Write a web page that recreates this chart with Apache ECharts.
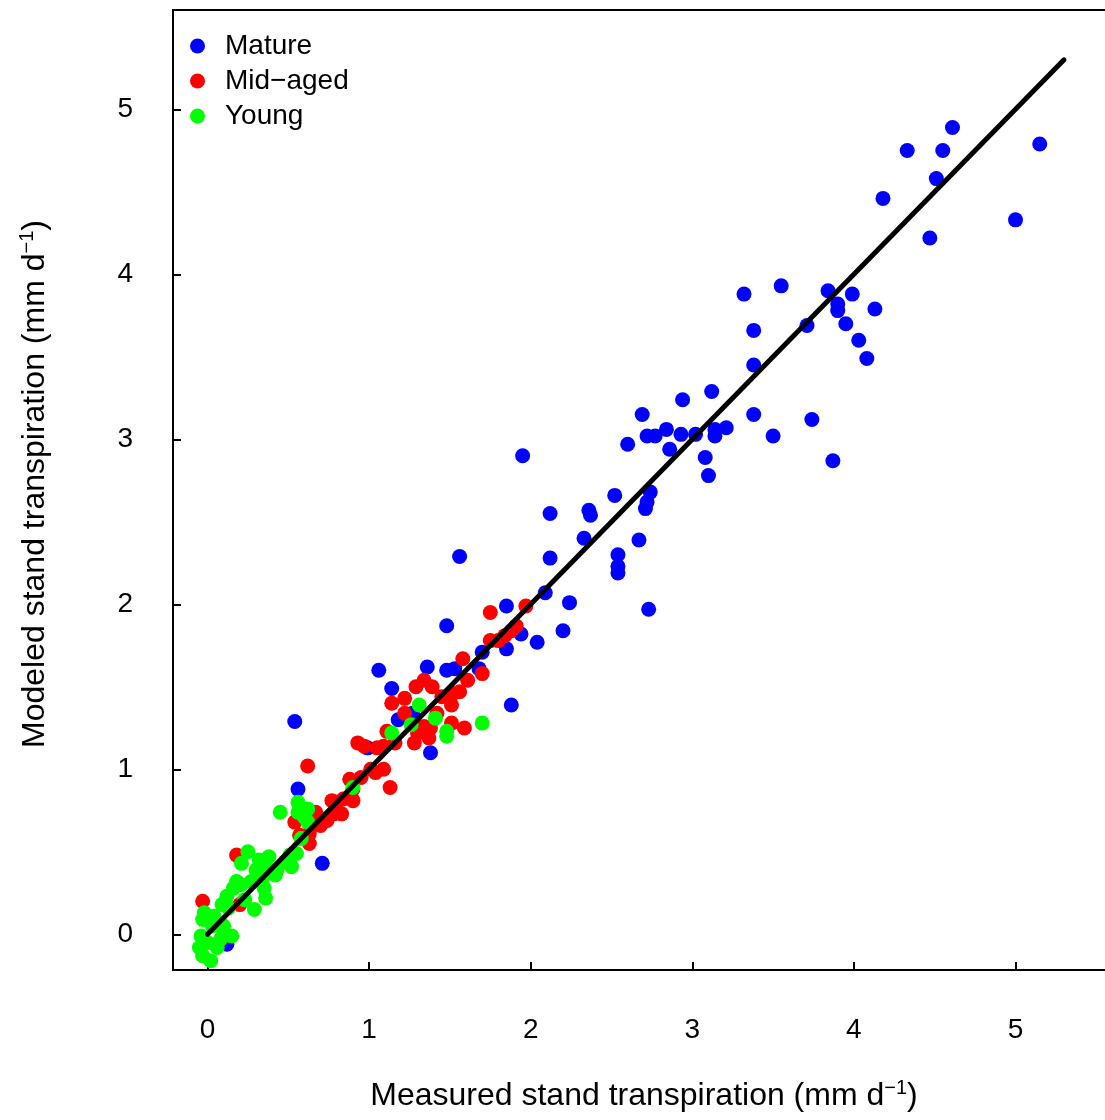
<!DOCTYPE html>
<html>
<head>
<meta charset="utf-8">
<script src="https://cdn.jsdelivr.net/npm/echarts@6/dist/echarts.min.js"></script>
<style>
html,body{margin:0;padding:0;background:#fff;overflow:hidden;}
#chart{width:1105px;height:1120px;}
</style>
</head>
<body>
<div id="chart"></div>
<script>
// ---- Data (measured, modeled) in mm d-1 ----
const mature = [
  [4.61,4.89],[4.33,4.75],[4.55,4.75],[5.15,4.79],[4.51,4.58],[4.18,4.46],[5.00,4.33],[4.47,4.22],
  [3.32,3.88],[3.55,3.93],[3.84,3.90],[3.99,3.88],[3.90,3.82],[3.90,3.78],[4.13,3.79],[3.38,3.66],
  [3.71,3.69],[3.95,3.70],[4.03,3.60],[4.08,3.49],[3.38,3.45],[3.12,3.29],[2.94,3.24],[2.69,3.15],
  [3.38,3.15],[3.74,3.12],[3.50,3.02],[3.87,2.87],[3.14,3.06],[3.14,3.02],[3.21,3.07],[3.08,2.89],
  [3.10,2.78],[2.60,2.97],[2.84,3.06],[2.72,3.02],[2.77,3.02],[2.93,3.03],[3.02,3.03],[2.86,2.94],
  [1.95,2.90],[2.52,2.66],[2.36,2.57],[2.37,2.54],[2.12,2.55],[2.74,2.68],[2.72,2.62],[2.71,2.58],
  [2.33,2.40],[2.67,2.39],[2.12,2.28],[2.54,2.30],[2.54,2.23],[2.54,2.19],[2.09,2.07],[2.24,2.01],
  [2.73,1.97],[1.85,1.99],[2.20,1.84],[2.04,1.77],[1.48,1.87],[1.56,2.29],[1.94,1.82],[1.85,1.73],
  [1.70,1.71],[1.36,1.62],[1.48,1.60],[1.53,1.61],[1.68,1.61],[1.06,1.60],[1.14,1.49],[1.88,1.39],
  [0.54,1.29],[1.18,1.30],[1.38,1.10],[0.56,0.88],[0.99,1.13],[0.71,0.43],[0.12,-0.06],[1.27,1.34]
];
const midAged = [
  [1.97,1.99],[1.75,1.95],[1.91,1.87],[1.88,1.84],[1.84,1.81],[1.80,1.78],[1.75,1.78],[1.58,1.67],
  [1.61,1.54],[1.70,1.58],[1.56,1.47],[1.51,1.39],[1.51,1.28],[1.59,1.25],[1.34,1.54],[1.29,1.50],
  [1.39,1.50],[1.22,1.43],[1.14,1.40],[1.22,1.34],[1.42,1.34],[1.34,1.26],[1.30,1.22],[1.37,1.19],
  [1.28,1.16],[1.11,1.23],[1.16,1.16],[0.93,1.16],[0.97,1.14],[1.05,1.13],[1.09,1.14],[1.01,1.00],
  [1.09,1.00],[1.04,0.98],[1.13,0.89],[0.88,0.94],[0.95,0.95],[0.90,0.88],[0.77,0.81],[0.84,0.82],
  [0.90,0.81],[0.74,0.69],[0.83,0.73],[0.78,0.73],[0.62,1.02],[0.54,0.68],[0.61,0.73],[0.63,0.61],
  [0.18,0.48],[-0.03,0.20],[0.63,0.55],[0.57,0.60],[0.68,0.69],[0.67,0.74],[1.52,1.46],[1.38,1.25],
  [0.20,0.18],[0.80,0.80],[0.70,0.66],[1.45,1.44]
];
const young = [
  [1.31,1.39],[1.41,1.31],[1.70,1.28],[1.48,1.23],[1.48,1.20],[1.14,1.22],[1.26,1.27],[0.90,0.89],
  [0.56,0.80],[0.45,0.74],[0.56,0.74],[0.60,0.71],[0.62,0.68],[0.58,0.58],[0.62,0.76],[0.25,0.50],
  [0.21,0.43],[0.32,0.45],[0.38,0.47],[0.30,0.39],[0.37,0.40],[0.43,0.39],[0.52,0.41],[0.51,0.48],
  [0.42,0.36],[0.18,0.32],[0.21,0.30],[0.16,0.28],[0.27,0.32],[0.35,0.28],[0.36,0.22],[0.29,0.15],
  [0.12,0.23],[0.09,0.18],[0.13,0.16],[-0.02,0.13],[-0.03,0.09],[0.04,0.11],[0.03,0.05],[0.10,0.05],
  [0.15,-0.01],[-0.04,-0.01],[-0.05,-0.08],[-0.03,-0.13],[0.02,-0.16],[0.08,-0.03],[0.06,-0.08],
  [0.00,-0.05],[0.10,0.01],[0.23,0.21],[0.34,0.34],[0.48,0.44],[0.55,0.49]
];
const oneToOne = [[0,0],[5.3,5.3]];
const xTicks = [0,1,2,3,4,5];
const yTicks = [0,1,2,3,4,5];
const seriesNames = ['Mature','Mid\u2212aged','Young'];

const FONT = '"Liberation Sans", Arial, Helvetica, sans-serif';
const chart = echarts.init(document.getElementById('chart'), null, {renderer:'canvas'});

const titleRich = {
  a: {fontSize: 32, color: '#000', fontFamily: FONT},
  sup: {fontSize: 20, color: '#000', fontFamily: FONT, verticalAlign: 'top', padding: [0,0,16,0]}
};

chart.setOption({
  animation: false,
  backgroundColor: '#fff',
  textStyle: {fontFamily: FONT, color: '#000'},
  grid: {
    left: 173, top: 10, width: 942, height: 960,
    outerBoundsMode: 'none', containLabel: false,
    show: true, borderColor: '#000', borderWidth: 2, backgroundColor: 'transparent'
  },
  legend: {
    data: seriesNames,
    orient: 'vertical',
    left: 190, top: 32, padding: 0,
    itemWidth: 15, itemHeight: 15, itemGap: 7,
    icon: 'circle',
    textStyle: {fontSize: 28, color: '#000', fontFamily: FONT, lineHeight: 28, padding: [0,0,0,15]}
  },
  xAxis: {
    type: 'value',
    min: -0.2135, max: 5.6157,
    splitLine: {show: false},
    axisLine: {show: true, onZero: false, lineStyle: {color: '#000', width: 2}},
    axisTick: {show: true, inside: true, length: 8, lineStyle: {color: '#000', width: 2}, customValues: xTicks},
    axisLabel: {fontSize: 28, color: '#000', fontFamily: FONT, margin: 46, customValues: xTicks},
    name: '{a|Measured stand transpiration (mm d}{sup|\u22121}{a|)}',
    nameLocation: 'middle', nameGap: 108,
    nameTextStyle: {rich: titleRich}
  },
  yAxis: {
    type: 'value',
    min: -0.2164, max: 5.6018,
    splitLine: {show: false},
    axisLine: {show: true, onZero: false, lineStyle: {color: '#000', width: 2}},
    axisTick: {show: true, inside: true, length: 8, lineStyle: {color: '#000', width: 2}, customValues: yTicks},
    axisLabel: {fontSize: 28, color: '#000', fontFamily: FONT, margin: 40, customValues: yTicks},
    name: '{a|Modeled stand transpiration (mm d}{sup|\u22121}{a|)}',
    nameLocation: 'middle', nameGap: 120,
    nameTextStyle: {rich: titleRich, padding: [0,0,0,12]}
  },
  series: [
    {name: seriesNames[0], type: 'scatter', data: mature, symbolSize: 15, itemStyle: {color: '#0000FF', opacity: 1}},
    {name: seriesNames[1], type: 'scatter', data: midAged, symbolSize: 15, itemStyle: {color: '#FF0000', opacity: 1}},
    {name: seriesNames[2], type: 'scatter', data: young, symbolSize: 15, itemStyle: {color: '#00FF00', opacity: 1}},
    {name: 'fit', type: 'line', data: oneToOne, showSymbol: false, symbol: 'none', z: 5,
     lineStyle: {color: '#000', width: 5, cap: 'round'}}
  ]
});
</script>
</body>
</html>
